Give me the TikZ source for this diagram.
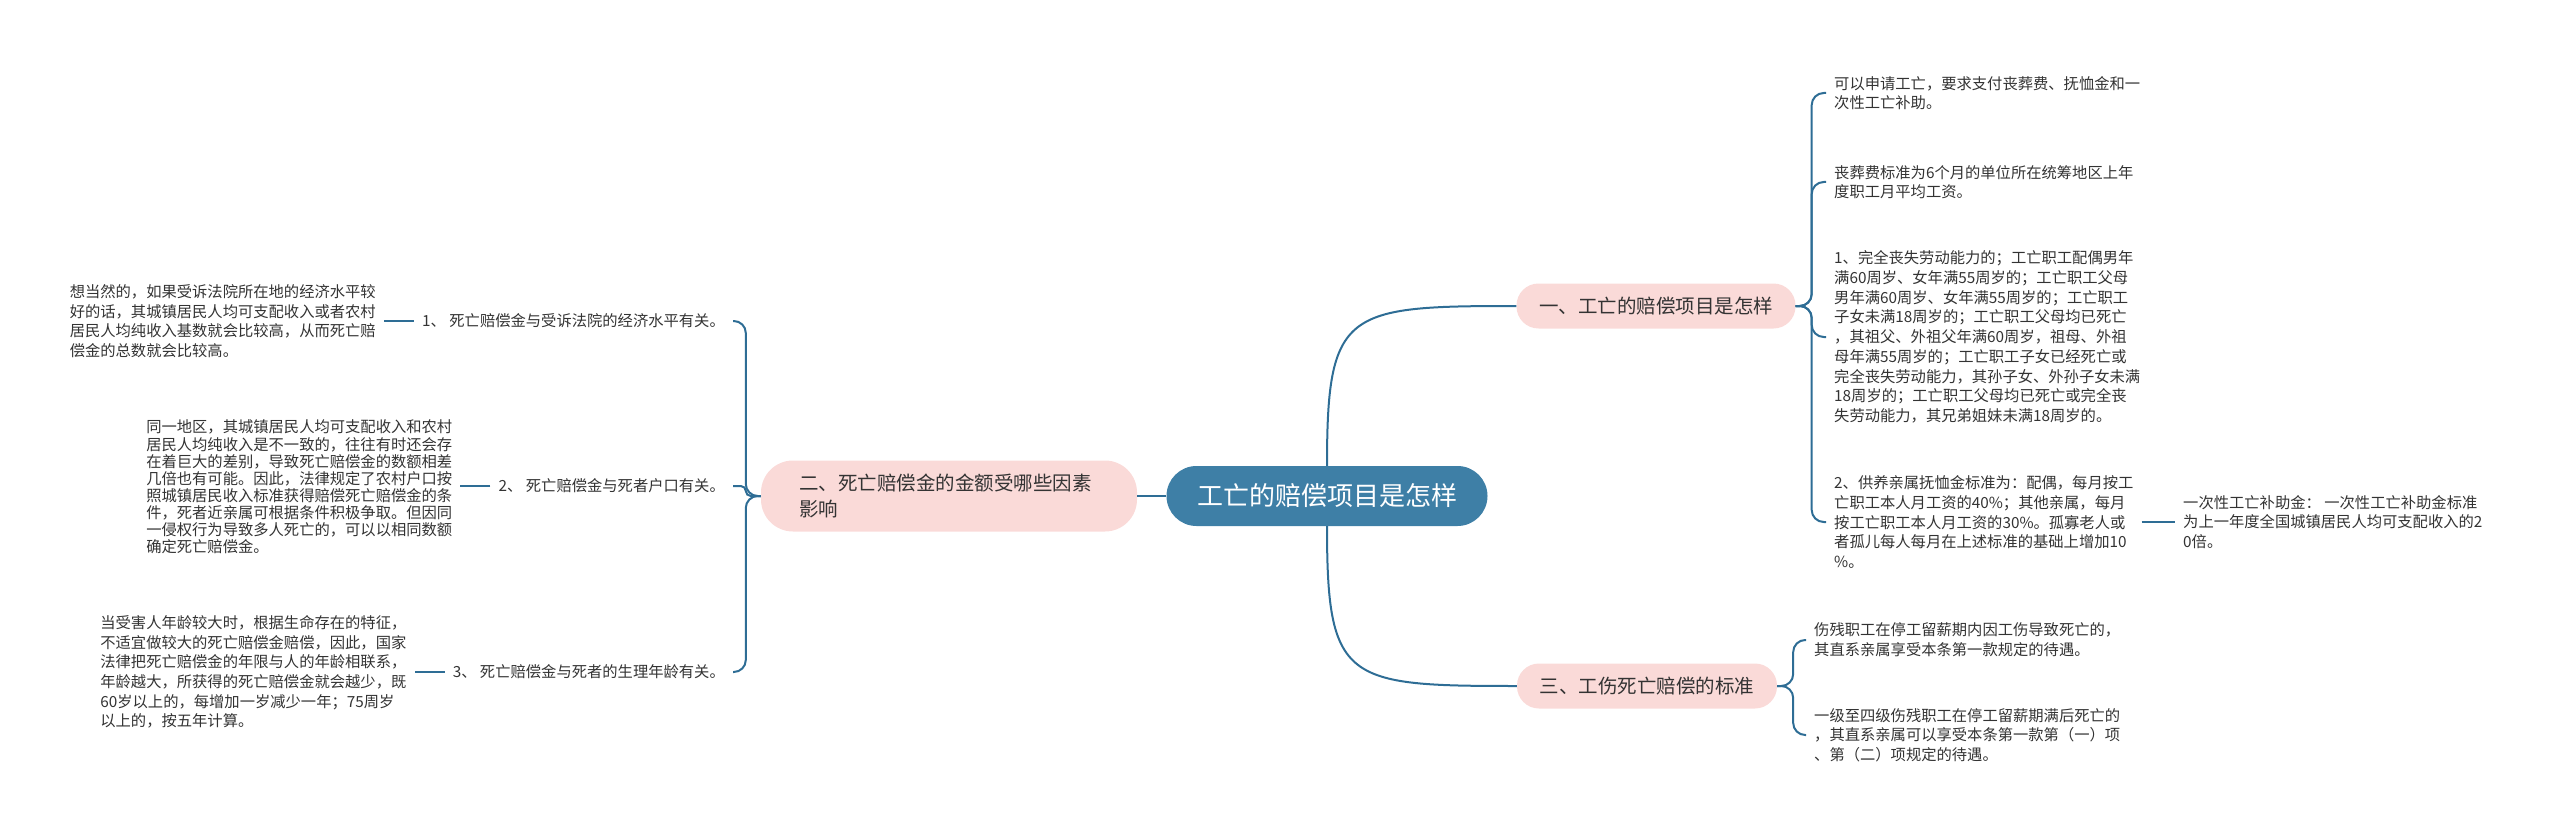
\documentclass[tikz,border=0pt]{standalone}
\usepackage{fontspec}
\setmainfont{Noto Sans CJK SC}
\definecolor{lnc}{HTML}{2E6D95}
\definecolor{cfill}{HTML}{3E7FA6}
\definecolor{pfill}{HTML}{FADAD8}
\definecolor{txt}{HTML}{333333}
\begin{document}
\begin{tikzpicture}[x=1pt,y=-1pt,
  conn/.style={draw=lnc, line width=2pt, rounded corners=12pt},
  leaf/.style={font=\fontsize{15.3}{19.7}\selectfont, text=txt, align=left, inner xsep=8pt, inner ysep=2pt},
  lleaf/.style={leaf, font=\fontsize{15.3}{17.1}\selectfont},
  topic/.style={fill=pfill, rounded corners=22pt, text=txt, font=\fontsize{19.5}{26}\selectfont, inner sep=0pt},
  rootnode/.style={fill=cfill, text=white, rounded corners=30pt, minimum width=321pt, minimum height=60pt, inner sep=0pt, font=\fontsize{26}{30}\selectfont}]
\useasboundingbox (0,0) rectangle (2560,837);

% nodes
\node[rootnode] (C) at (1327,496) {工亡的赔偿项目是怎样};
\node[topic, minimum width=376pt, minimum height=71pt, rounded corners=32pt, align=left, text width=300pt] (B2) at (949,496) {二、死亡赔偿金的金额受哪些因素\\影响};
\node[topic, minimum width=279pt, minimum height=45pt] (B1) at (1656,306) {一、工亡的赔偿项目是怎样};
\node[topic, minimum width=260pt, minimum height=45pt] (B3) at (1647,686) {三、工伤死亡赔偿的标准};

\node[leaf, anchor=west] (R1) at (1826,93) {可以申请工亡，要求支付丧葬费、抚恤金和一\\次性工亡补助。};
\node[leaf, anchor=west] (R2) at (1826,182) {丧葬费标准为6个月的单位所在统筹地区上年\\度职工月平均工资。};
\node[leaf, anchor=west] (R3) at (1826,337) {1、完全丧失劳动能力的；工亡职工配偶男年\\满60周岁、女年满55周岁的；工亡职工父母\\男年满60周岁、女年满55周岁的；工亡职工\\子女未满18周岁的；工亡职工父母均已死亡\\，其祖父、外祖父年满60周岁，祖母、外祖\\母年满55周岁的；工亡职工子女已经死亡或\\完全丧失劳动能力，其孙子女、外孙子女未满\\18周岁的；工亡职工父母均已死亡或完全丧\\失劳动能力，其兄弟姐妹未满18周岁的。};
\node[leaf, anchor=west] (R4) at (1826,522) {2、供养亲属抚恤金标准为：配偶，每月按工\\亡职工本人月工资的40\%；其他亲属，每月\\按工亡职工本人月工资的30\%。孤寡老人或\\者孤儿每人每月在上述标准的基础上增加10\\\%。};
\node[leaf, anchor=west] (R5) at (2175,522) {一次性工亡补助金： 一次性工亡补助金标准\\为上一年度全国城镇居民人均可支配收入的2\\0倍。};
\node[leaf, anchor=west] (R6) at (1806,640) {伤残职工在停工留薪期内因工伤导致死亡的，\\其直系亲属享受本条第一款规定的待遇。};
\node[leaf, anchor=west] (R7) at (1806,735) {一级至四级伤残职工在停工留薪期满后死亡的\\，其直系亲属可以享受本条第一款第（一）项\\、第（二）项规定的待遇。};

\node[leaf, anchor=east] (L1) at (733,321) {1、 死亡赔偿金与受诉法院的经济水平有关。};
\node[leaf, anchor=east] (L2) at (733,486) {2、 死亡赔偿金与死者户口有关。};
\node[leaf, anchor=east] (L3) at (733,672) {3、 死亡赔偿金与死者的生理年龄有关。};
\node[leaf, anchor=east] (L1c) at ([xshift=-30pt]L1.west) {想当然的，如果受诉法院所在地的经济水平较\\好的话，其城镇居民人均可支配收入或者农村\\居民人均纯收入基数就会比较高，从而死亡赔\\偿金的总数就会比较高。};
\node[lleaf, anchor=east] (L2c) at ([xshift=-30pt,yshift=-1pt]L2.west) {同一地区，其城镇居民人均可支配收入和农村\\居民人均纯收入是不一致的，往往有时还会存\\在着巨大的差别，导致死亡赔偿金的数额相差\\几倍也有可能。因此，法律规定了农村户口按\\照城镇居民收入标准获得赔偿死亡赔偿金的条\\件，死者近亲属可根据条件积极争取。但因同\\一侵权行为导致多人死亡的，可以以相同数额\\确定死亡赔偿金。};
\node[leaf, anchor=east] (L3c) at ([xshift=-30pt]L3.west) {当受害人年龄较大时，根据生命存在的特征，\\不适宜做较大的死亡赔偿金赔偿，因此，国家\\法律把死亡赔偿金的年限与人的年龄相联系，\\年龄越大，所获得的死亡赔偿金就会越少，既\\60岁以上的，每增加一岁减少一年；75周岁\\以上的，按五年计算。};

% connectors
\draw[conn] (C.west) -- (B2.east);
\draw[conn] (C.north) .. controls (1327,310) and (1345,306) .. (B1.west);
\draw[conn] (C.south) .. controls (1327,682) and (1345,686) .. (B3.west);
\foreach \n in {R1,R2,R3,R4} \draw[conn] (B1.east) -- ++(16,0) |- (\n.west);
\draw[conn] (R4.east) -- (R5.west);
\foreach \n in {R6,R7} \draw[conn] (B3.east) -- ++(16,0) |- (\n.west);
\foreach \n in {L1,L3} \draw[conn] (B2.west) -- ++(-15,0) |- (\n.east);
\draw[conn, rounded corners=5pt] (B2.west) -- ++(-15,0) |- (L2.east);
\draw[conn] (L1.west) -- (L1c.east);
\draw[conn] (L2.west) -- (L2c.east |- L2.west);
\draw[conn] (L3.west) -- (L3c.east);
\end{tikzpicture}
\end{document}
